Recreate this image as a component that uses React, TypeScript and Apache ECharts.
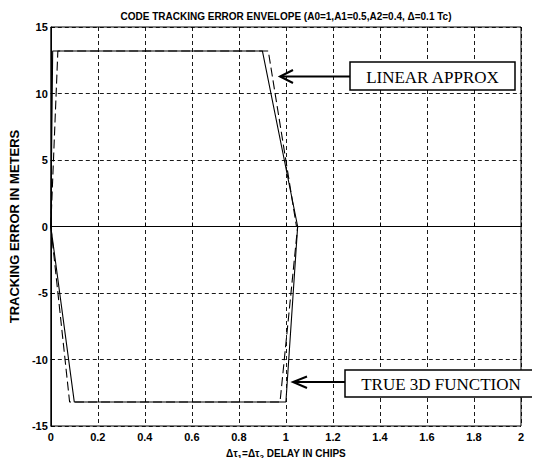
import React, { useEffect, useRef } from "react";
import * as echarts from "echarts";

const titleText = "CODE TRACKING ERROR ENVELOPE (A0=1,A1=0.5,A2=0.4, \u0394=0.1 Tc)";
const yName = "TRACKING ERROR IN METERS";

// True 3D function (solid)
const trueUpperX = [0, 0.008, 0.9, 1.05, 2];
const trueUpperY = [0, 13.2, 13.2, 0, 0];
const trueLowerX = [0, 0.1, 1.0, 1.05];
const trueLowerY = [0, -13.2, -13.2, 0];
// Linear approximation (dashed)
const linUpperX = [0, 0.03, 0.925, 1.045];
const linUpperY = [0, 13.2, 13.2, 0];
const linLowerX = [0, 0.08, 0.975, 1.05];
const linLowerY = [0, -13.2, -13.2, 0];

const pairs = (xs: number[], ys: number[]) => xs.map((x, i) => [x, ys[i]]);

export default function App() {
  const ref = useRef<HTMLDivElement>(null);
  useEffect(() => {
    if (!ref.current) return;
    const chart = echarts.init(ref.current, null, { renderer: "svg" });
    const sans = "Liberation Sans, Arial, sans-serif";
    const serif = "Liberation Serif, Times New Roman, serif";
    const solid = { color: "#000", width: 1.1, type: "solid" as const };
    const dashed = { color: "#000", width: 1.1, type: [9, 4] as any };
    const mk = (name: string, xs: number[], ys: number[], ls: any) => ({
      type: "line",
      name,
      data: pairs(xs, ys),
      showSymbol: false,
      lineStyle: ls,
      silent: true,
    });
    chart.setOption({
      animation: false,
      backgroundColor: "#fff",
      title: {
        text: titleText,
        left: 281,
        textAlign: "center",
        top: 6,
        textStyle: { fontFamily: sans, fontSize: 10, fontWeight: "bold", color: "#000" },
      },
      grid: { left: 42, right: 19, top: 27, bottom: 37, show: true, borderColor: "#000", borderWidth: 1 },
      xAxis: {
        type: "value",
        min: 0,
        max: 2,
        interval: 0.2,
        axisLine: { show: true, lineStyle: { color: "#000", width: 1 } },
        axisTick: { show: true, inside: true, length: 4, lineStyle: { color: "#000" } },
        axisLabel: { color: "#000", fontFamily: sans, fontSize: 11, fontWeight: "bold", margin: 5 },
        splitLine: { show: true, lineStyle: { color: "#000", width: 0.9, type: [4, 3] } },
        name: "{n|\u0394\u03c4}{s|1}{n|=\u0394\u03c4}{s|2}{n| DELAY IN CHIPS}",
        nameLocation: "middle",
        nameGap: 20,
        nameTextStyle: {
          color: "#000",
          fontFamily: sans,
          fontSize: 10,
          fontWeight: "bold",
          rich: {
            n: { fontFamily: sans, fontSize: 10, fontWeight: "bold", color: "#000" },
            s: { fontFamily: sans, fontSize: 8, fontWeight: "bold", color: "#000", padding: [7, 0, 0, 0] },
          },
        },
      },
      yAxis: {
        type: "value",
        min: -15,
        max: 15,
        interval: 5,
        axisLine: { show: true, lineStyle: { color: "#000", width: 1 } },
        axisTick: { show: true, inside: true, length: 4, lineStyle: { color: "#000" } },
        axisLabel: { color: "#000", fontFamily: sans, fontSize: 11, fontWeight: "bold", margin: 3 },
        splitLine: { show: true, lineStyle: { color: "#000", width: 0.9, type: [4, 3] } },
        name: yName,
        nameLocation: "middle",
        nameGap: 21,
        nameTextStyle: { color: "#000", fontFamily: sans, fontSize: 13, fontWeight: "bold" },
      },
      series: [
        mk("TRUE 3D FUNCTION", trueUpperX, trueUpperY, solid),
        mk("TRUE 3D FUNCTION lower", trueLowerX, trueLowerY, solid),
        mk("LINEAR APPROX", linUpperX, linUpperY, dashed),
        mk("LINEAR APPROX lower", linLowerX, linLowerY, dashed),
      ],
      graphic: [
        // LINEAR APPROX annotation
        { type: "line", shape: { x1: 350, y1: 76.5, x2: 281, y2: 76.5 }, style: { stroke: "#000", lineWidth: 2 }, z: 10 },
        { type: "polyline", shape: { points: [[293, 70], [280, 76.5], [293, 83]] }, style: { stroke: "#000", lineWidth: 2, fill: "none" }, z: 10 },
        { type: "rect", shape: { x: 350, y: 62, width: 165, height: 28 }, style: { stroke: "#000", lineWidth: 1.5, fill: "#fff" }, z: 10 },
        { type: "text", x: 432.5, y: 77, style: { text: "LINEAR APPROX", fontFamily: serif, fontSize: 17, fill: "#000", textAlign: "center", textVerticalAlign: "middle" }, z: 11 },
        // TRUE 3D FUNCTION annotation
        { type: "line", shape: { x1: 345, y1: 382, x2: 294, y2: 382 }, style: { stroke: "#000", lineWidth: 2 }, z: 10 },
        { type: "polyline", shape: { points: [[307, 376.5], [293, 382], [307, 388]] }, style: { stroke: "#000", lineWidth: 2, fill: "none" }, z: 10 },
        { type: "rect", shape: { x: 345, y: 370, width: 192, height: 27 }, style: { stroke: "#000", lineWidth: 1.5, fill: "#fff" }, z: 10 },
        { type: "text", x: 441, y: 384, style: { text: "TRUE 3D FUNCTION", fontFamily: serif, fontSize: 17, fill: "#000", textAlign: "center", textVerticalAlign: "middle" }, z: 11 },
      ],
    });
    return () => chart.dispose();
  }, []);
  return <div ref={ref} style={{ width: 540, height: 466, margin: -8 }} />;
}
